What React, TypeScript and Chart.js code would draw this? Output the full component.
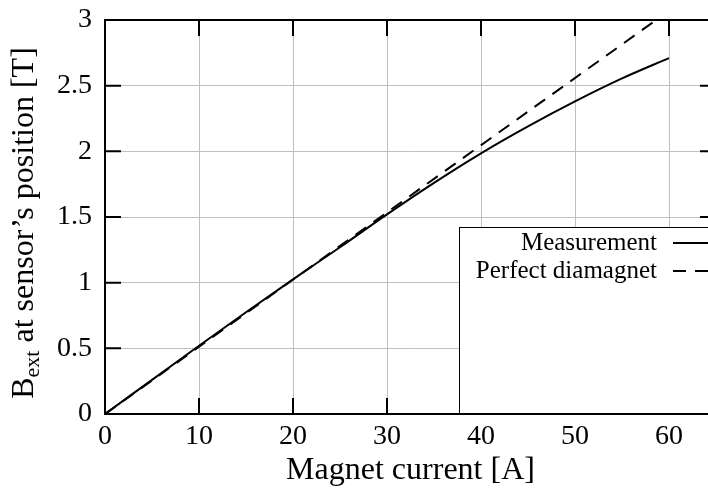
import React, { useEffect, useRef } from "react";
import { Chart, registerables } from "chart.js";

Chart.register(...registerables);

// Magnet current [A] at which the field was sampled
const currents = [0, 5, 10, 15, 20, 25, 30, 35, 40, 45, 50, 55, 60];
// Measured external field at the sensor [T]
const measuredField = [0, 0.26, 0.52, 0.775, 1.025, 1.27, 1.52, 1.76, 1.985, 2.19, 2.38, 2.555, 2.71];
// Ideal (perfect diamagnet) response: straight line, clipped by the plot frame
const idealCurrents = [0, 60];
const idealField = [0, 3.07];

const xTicks = [0, 10, 20, 30, 40, 50, 60];
const yTicks = [0, 0.5, 1, 1.5, 2, 2.5, 3];

const legendLabels = ["Measurement", "Perfect diamagnet"];

const SERIF = "'Liberation Serif', 'Times New Roman', serif";
const DASH = [13, 9];

const framePlugin = {
  id: "frameAndLegend",
  afterDatasetsDraw(chart: any) {
    const { ctx, chartArea } = chart;
    const { left, right, top, bottom } = chartArea;
    const xs = chart.scales.x;
    const ys = chart.scales.y;
    const tick = 16;

    ctx.save();
    ctx.strokeStyle = "#000";
    ctx.lineWidth = 2;
    ctx.beginPath();
    for (const v of xTicks) {
      const px = xs.getPixelForValue(v);
      ctx.moveTo(px, bottom);
      ctx.lineTo(px, bottom - tick);
      ctx.moveTo(px, top);
      ctx.lineTo(px, top + tick);
    }
    for (const v of yTicks) {
      const py = ys.getPixelForValue(v);
      ctx.moveTo(left, py);
      ctx.lineTo(left + tick, py);
      ctx.moveTo(right, py);
      ctx.lineTo(right - tick, py);
    }
    ctx.stroke();

    // legend box
    const bx = 459;
    const by = 227;
    ctx.fillStyle = "#fff";
    ctx.fillRect(bx, by, right - bx, bottom - by);
    ctx.lineWidth = 1;
    ctx.strokeRect(bx + 0.5, by + 0.5, right - bx, bottom - by);

    ctx.fillStyle = "#000";
    ctx.font = `25px ${SERIF}`;
    ctx.textAlign = "right";
    ctx.textBaseline = "middle";
    const rows = [243, 271];
    legendLabels.forEach((label, i) => {
      ctx.fillText(label, 657, rows[i]);
      ctx.beginPath();
      ctx.lineWidth = 2;
      ctx.setLineDash(i === 1 ? DASH : []);
      ctx.moveTo(673, rows[i]);
      ctx.lineTo(right + 10, rows[i]);
      ctx.stroke();
    });
    ctx.setLineDash([]);

    // axis frame
    ctx.lineWidth = 2;
    ctx.strokeRect(left, top, right - left, bottom - top);
    ctx.restore();
  },
  afterDraw(chart: any) {
    const { ctx, chartArea } = chart;
    const cy = (chartArea.top + chartArea.bottom) / 2 + 6;
    const big = `32px ${SERIF}`;
    const small = `22px ${SERIF}`;
    const parts = [
      { t: "B", f: big, dy: 0 },
      { t: "ext", f: small, dy: 6 },
      { t: " at sensor\u2019s position [T]", f: big, dy: 0 },
    ];
    ctx.save();
    let total = 0;
    const widths = parts.map((p) => {
      ctx.font = p.f;
      const w = ctx.measureText(p.t).width;
      total += w;
      return w;
    });
    ctx.translate(33, cy);
    ctx.rotate(-Math.PI / 2);
    ctx.fillStyle = "#000";
    ctx.textAlign = "left";
    ctx.textBaseline = "alphabetic";
    let x = -total / 2;
    parts.forEach((p, i) => {
      ctx.font = p.f;
      ctx.fillText(p.t, x, p.dy);
      x += widths[i];
    });
    ctx.restore();
  },
};

export default function App() {
  const canvasRef = useRef<HTMLCanvasElement | null>(null);

  useEffect(() => {
    const canvas = canvasRef.current;
    if (!canvas) return;
    const chart = new Chart(canvas, {
      type: "line",
      data: {
        datasets: [
          {
            label: legendLabels[0],
            data: currents.map((c, i) => ({ x: c, y: measuredField[i] })),
            borderColor: "#000",
            borderWidth: 2,
            pointRadius: 0,
            cubicInterpolationMode: "monotone",
            fill: false,
          },
          {
            label: legendLabels[1],
            data: idealCurrents.map((c, i) => ({ x: c, y: idealField[i] })),
            borderColor: "#000",
            borderWidth: 2,
            borderDash: DASH,
            pointRadius: 0,
            tension: 0,
            fill: false,
          },
        ],
      },
      options: {
        animation: false,
        responsive: false,
        devicePixelRatio: 1,
        layout: { padding: { left: 0, top: 20, right: 14, bottom: 0 } },
        plugins: { legend: { display: false }, tooltip: { enabled: false } },
        scales: {
          x: {
            type: "linear",
            min: 0,
            max: 65,
            afterBuildTicks: (scale: any) => {
              scale.ticks = xTicks.map((v) => ({ value: v }));
            },
            afterFit: (scale: any) => {
              scale.height = 77;
              scale.paddingLeft = 0;
              scale.paddingRight = 0;
            },
            grid: { color: "#c0c0c0", lineWidth: 1, drawTicks: false },
            border: { display: false },
            ticks: {
              padding: 6,
              color: "#000",
              font: { family: SERIF, size: 28 },
              maxRotation: 0,
            },
            title: {
              display: true,
              text: "Magnet current [A]",
              color: "#000",
              font: { family: SERIF, size: 32, lineHeight: 1 },
              padding: { top: 0, bottom: 4 },
            },
          },
          y: {
            type: "linear",
            min: 0,
            max: 3,
            afterBuildTicks: (scale: any) => {
              scale.ticks = yTicks.map((v) => ({ value: v }));
            },
            afterFit: (scale: any) => {
              scale.width = 105;
              scale.paddingTop = 0;
              scale.paddingBottom = 0;
            },
            grid: { color: "#c0c0c0", lineWidth: 1, drawTicks: false },
            border: { display: false },
            ticks: {
              padding: 13,
              color: "#000",
              font: { family: SERIF, size: 28 },
              callback: (v: any) => String(Number(v)),
            },
          },
        },
      },
      plugins: [framePlugin],
    });
    return () => chart.destroy();
  }, []);

  return (
    <div
      style={{
        position: "fixed",
        left: 0,
        top: 0,
        width: 708,
        height: 491,
        overflow: "hidden",
        background: "#fff",
      }}
    >
      <canvas ref={canvasRef} width={730} height={491} style={{ display: "block" }} />
    </div>
  );
}
